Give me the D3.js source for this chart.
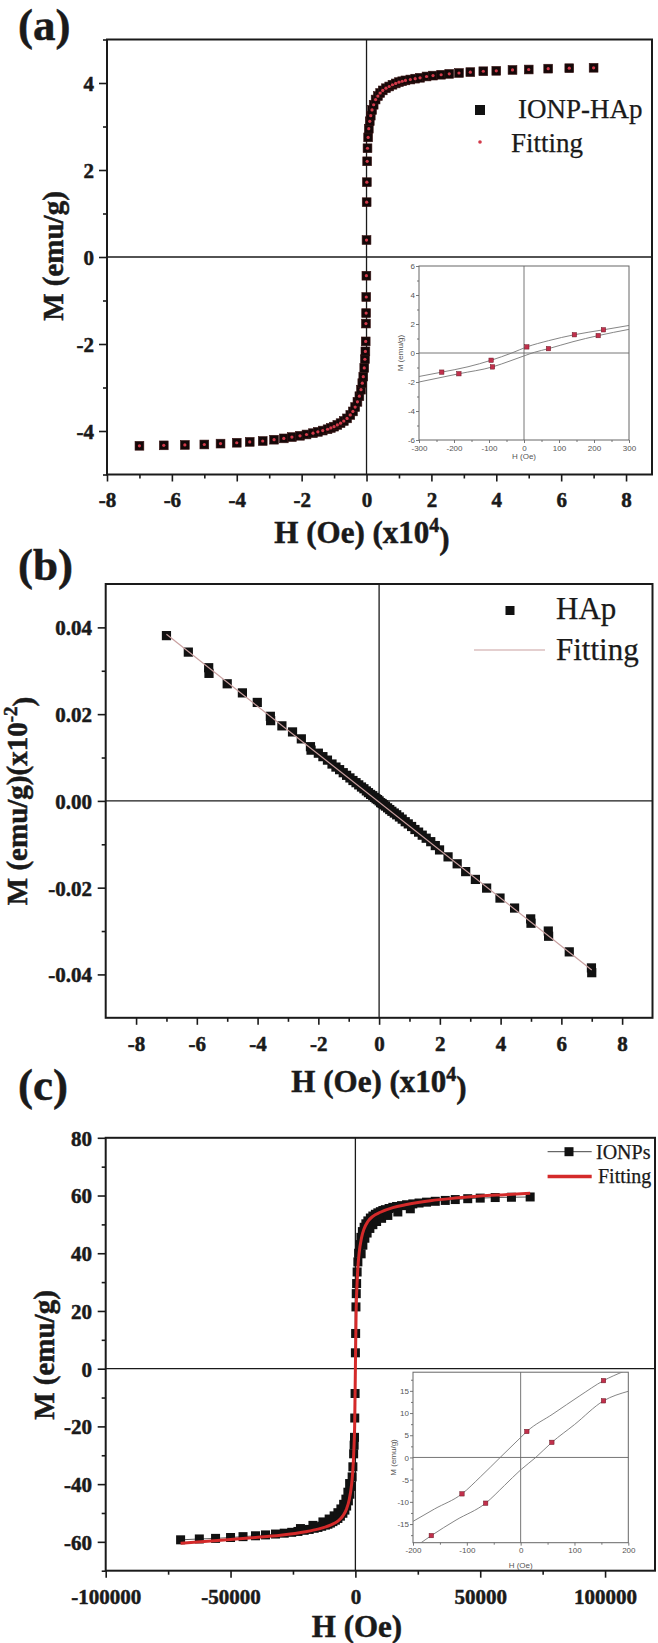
<!DOCTYPE html>
<html>
<head>
<meta charset="utf-8">
<script src="https://cdn.jsdelivr.net/npm/d3@7"></script>
<style>
  body { margin: 0; background: #fff; }
  svg { display: block; }
</style>
</head>
<body>
<div id="chart"></div>
<script>
// ---- data ----
// (a) IONP-HAp, H in x10^4 Oe, M in emu/g
const aPoints = [
  [-7, -4.34], [-6.25, -4.33], [-5.6, -4.32], [-5, -4.31], [-4.5, -4.29], [-4, -4.27], [-3.6, -4.25],
  [-3.2, -4.23], [-2.85, -4.2], [-2.55, -4.17], [-2.3, -4.14], [-2.05, -4.11], [-1.85, -4.08],
  [-1.65, -4.05], [-1.5, -4.02], [-1.35, -3.99], [-1.2, -3.96], [-1.1, -3.93], [-1, -3.9],
  [-0.9, -3.86], [-0.8, -3.82], [-0.7, -3.77], [-0.6, -3.71], [-0.5, -3.63], [-0.42, -3.55],
  [-0.35, -3.45], [-0.28, -3.33], [-0.22, -3.2], [-0.17, -3.05], [-0.13, -2.9], [-0.1, -2.75],
  [-0.07, -2.55], [-0.05, -2.35], [-0.035, -2.17], [-0.025, -1.94], [-0.018, -1.53], [-0.012, -1.29],
  [-0.008, -0.92], [-0.004, -0.43], [0, 0.39], [0.004, 1.26], [0.01, 1.72], [0.02, 2.2], [0.03, 2.5],
  [0.05, 2.75], [0.07, 2.95], [0.1, 3.12], [0.13, 3.25], [0.17, 3.38], [0.22, 3.5], [0.28, 3.62],
  [0.35, 3.7], [0.42, 3.77], [0.5, 3.83], [0.6, 3.88], [0.7, 3.92], [0.8, 3.96], [0.9, 3.99],
  [1, 4.02], [1.1, 4.04], [1.2, 4.06], [1.35, 4.08], [1.5, 4.1], [1.65, 4.12], [1.85, 4.15],
  [2.05, 4.17], [2.3, 4.19], [2.55, 4.21], [2.85, 4.23], [3.2, 4.25], [3.6, 4.27], [4, 4.28],
  [4.5, 4.3], [5, 4.31], [5.6, 4.33], [6.25, 4.34], [7, 4.35]
];
// (a) inset, H in Oe
const aInsetUp = [[-300, -1.62], [-235, -1.32], [-160, -0.95], [-94, -0.5], [-35, 0], [8, 0.42], [70, 0.85], [144, 1.26], [227, 1.6], [300, 1.9]];
const aInsetLow = [[-300, -2.0], [-186, -1.43], [-90, -0.96], [-40, -0.55], [0, -0.2], [30, 0.05], [70, 0.3], [140, 0.78], [212, 1.2], [300, 1.63]];
const aInsetDots = [[-235, -1.32], [-94, -0.5], [8, 0.42], [144, 1.26], [227, 1.6], [-186, -1.43], [-90, -0.96], [70, 0.3], [212, 1.2]];

// (b) HAp, H in x10^4 Oe
const bPoints = [
  [-7, 0.0381], [-6.28, 0.0343], [-5.61, 0.0307], [-5.6, 0.0294], [-5, 0.027], [-4.5, 0.0249],
  [-4.01, 0.0227], [-3.58, 0.0195], [-3.57, 0.0185], [-3.2, 0.0173], [-2.85, 0.0159], [-2.56, 0.0143],
  [-2.26, 0.0125], [-2.24, 0.0117], [-2, 0.011], [-1.85, 0.0102], [-1.7, 0.0094], [-1.55, 0.0085],
  [-1.42, 0.0078], [-1.3, 0.0072], [-1.18, 0.0065], [-1.07, 0.0059], [-0.96, 0.0053], [-0.86, 0.0047],
  [-0.76, 0.0042], [-0.67, 0.0037], [-0.58, 0.0032], [-0.5, 0.0028], [-0.42, 0.0023], [-0.35, 0.0019],
  [-0.28, 0.0015], [-0.21, 0.0012], [-0.15, 0.0008], [-0.1, 0.0005], [-0.05, 0.0003], [0, 0],
  [0.05, -0.0004], [0.1, -0.0006], [0.15, -0.0009], [0.21, -0.0012], [0.28, -0.0016], [0.35, -0.002],
  [0.42, -0.0024], [0.5, -0.0028], [0.58, -0.0032], [0.67, -0.0037], [0.76, -0.0042], [0.86, -0.0048],
  [0.96, -0.0053], [1.07, -0.0059], [1.18, -0.0066], [1.3, -0.0072], [1.42, -0.0079], [1.55, -0.0086],
  [1.7, -0.0094], [1.85, -0.0103], [1.99, -0.0113], [2.27, -0.0129], [2.57, -0.0145], [2.85, -0.0163],
  [3.17, -0.0181], [3.54, -0.0201], [3.98, -0.0224], [4.46, -0.0247], [4.99, -0.0272], [5, -0.0282],
  [5.57, -0.03], [5.58, -0.0312], [6.26, -0.0348], [6.99, -0.0385], [7, -0.0396]
];
const bFit = [[-7, 0.0384], [7, -0.039]];

// (c) IONPs, H in Oe
const cPoints = [
  [-70000, -59.3], [-62500, -59.0], [-56000, -58.8], [-50000, -58.5], [-45000, -58.2], [-40000, -57.9],
  [-36000, -57.6], [-32000, -57.3], [-28500, -57.0], [-25500, -56.7], [-23000, -56.4], [-20500, -56.0],
  [-18500, -55.7], [-16500, -55.3], [-15000, -55.0], [-13500, -54.6], [-12000, -54.2], [-11000, -53.9],
  [-10000, -53.5], [-9000, -53.0], [-8000, -52.5], [-7000, -51.9], [-6000, -51.1], [-5000, -50.1],
  [-4200, -49.0], [-3500, -47.6], [-2800, -45.8], [-2200, -43.5], [-1700, -40.8], [-1300, -37.5],
  [-1000, -34.0], [-700, -29.5], [-500, -26.5], [-350, -23.8], [-250, -17.1], [-120, -8.6],
  [10, 5.5], [100, 12.2], [230, 21.4], [350, 26.0], [500, 29.5], [700, 33.5], [1000, 37.0],
  [1300, 40.0], [1700, 43.0], [2200, 45.5], [2800, 47.5], [3500, 49.0], [4200, 50.2], [5000, 51.2],
  [6000, 52.2], [7000, 52.9], [8000, 53.5], [9000, 54.0], [10000, 54.4], [11000, 54.8], [12000, 55.1],
  [13500, 55.5], [15000, 55.9], [16500, 56.2], [18500, 56.5], [20500, 56.8], [23000, 57.1],
  [25500, 57.4], [28500, 57.7], [32000, 58.0], [36000, 58.3], [40000, 58.6], [45000, 58.9],
  [50000, 59.1], [56000, 59.3], [62500, 59.4], [70000, 59.5]
];
// (c) return branch, visible as the thicker band around the knees
const cReturn = [
  [-22000, -55.4], [-17000, -54.3], [-13000, -53.1], [-10500, -52.1], [-8500, -51.0], [-7000, -49.9],
  [-5800, -48.6], [-4700, -47.0], [-3800, -45.2], [-3000, -42.8], [-2300, -39.8],
  [2300, 39.8], [3000, 42.8], [3800, 45.2], [4700, 47.0], [5800, 48.6], [7000, 49.9], [8500, 51.0],
  [10500, 52.1], [13000, 53.1], [17000, 54.3], [22000, 55.4]
];
const cFit = [
  [-70000, -60.5], [-50000, -59.2], [-40000, -58.5], [-30000, -57.7], [-20000, -56.5], [-15000, -55.6],
  [-10000, -54.2], [-7000, -52.8], [-5000, -51.0], [-3500, -48.5], [-2500, -45.5], [-1500, -40],
  [-1000, -35], [-600, -28], [-300, -20], [0, 0], [300, 20], [600, 28], [1000, 35], [1500, 40],
  [2500, 45.5], [3500, 48.5], [5000, 51], [7000, 52.8], [10000, 54.2], [15000, 55.8], [20000, 56.8],
  [30000, 58.2], [40000, 59.1], [50000, 59.8], [60000, 60.3], [70000, 60.8]
];
// (c) inset, H in Oe
const cInsetUp = [[-200, -14.4], [-160, -11.6], [-109, -8.2], [-75, -4.4], [-38, 0], [0, 4.5], [11.5, 5.85], [60, 9.8], [110, 13.9], [154, 17.3], [190, 19.3]];
const cInsetLow = [[-185, -19.2], [-166, -17.6], [-120, -14.1], [-65, -10.3], [-30, -6.3], [0, -2.8], [28, 0], [58, 3.4], [100, 7.4], [154, 12.75], [200, 14.9]];
const cInsetDots = [[-109, -8.2], [11.5, 5.85], [154, 17.3], [-166, -17.6], [-65, -10.3], [58, 3.4], [154, 12.75]];

// tick values
const aXTicks = [-8, -6, -4, -2, 0, 2, 4, 6, 8];
const aXMinor = [-7, -5, -3, -1, 1, 3, 5, 7];
const aYTicks = [-4, -2, 0, 2, 4];
const aYMinor = [-5, -3, -1, 1, 3, 5];
const bXTicks = [-8, -6, -4, -2, 0, 2, 4, 6, 8];
const bXMinor = [-7, -5, -3, -1, 1, 3, 5, 7];
const bYTicks = [-0.04, -0.02, 0, 0.02, 0.04];
const bYMinor = [-0.03, -0.01, 0.01, 0.03];
const cXTicks = [-100000, -50000, 0, 50000, 100000];
const cXMinor = [-75000, -25000, 25000, 75000];
const cYTicks = [-60, -40, -20, 0, 20, 40, 60, 80];
const cYMinor = [-70, -50, -30, -10, 10, 30, 50, 70];

// ---- drawing ----
const W = 658, H = 1643;
const ink = '#1a1a1a';
const serif = '"Liberation Serif", "Times New Roman", serif';
const sans = '"Liberation Sans", Arial, sans-serif';

const svg = d3.select('#chart').append('svg')
  .attr('width', W)
  .attr('height', H)
  .style('background', '#fff');

// bold serif text, thickened a little like the scanned figure
function heavy(sel, size) {
  return sel.attr('fill', ink).attr('stroke', ink).attr('stroke-width', 0.5)
    .style('font-family', serif).style('font-weight', 'bold').style('font-size', size + 'px');
}

function styleTicks(g, size, color) {
  g.select('.domain').remove();
  g.selectAll('line').attr('stroke', color).attr('stroke-width', size);
}

function panel(p) {
  const x = d3.scaleLinear().domain(p.xd).range([p.l, p.r]);
  const y = d3.scaleLinear().domain(p.yd).range([p.b, p.t]);

  // zero lines
  svg.append('line').attr('x1', x(0)).attr('x2', x(0)).attr('y1', p.t).attr('y2', p.b)
    .attr('stroke', ink).attr('stroke-width', 1.3);
  svg.append('line').attr('x1', p.l).attr('x2', p.r).attr('y1', y(0)).attr('y2', y(0))
    .attr('stroke', ink).attr('stroke-width', 1.3);

  const gx = svg.append('g').attr('transform', `translate(0,${p.b})`)
    .call(d3.axisBottom(x).tickValues(p.xt).tickSize(7).tickSizeOuter(0).tickFormat(p.xf));
  styleTicks(gx, 1.6, ink);
  heavy(gx.selectAll('text'), 21).attr('y', p.xLab - p.b).attr('dy', 0);
  const gxm = svg.append('g').attr('transform', `translate(0,${p.b})`)
    .call(d3.axisBottom(x).tickValues(p.xm).tickSize(4).tickSizeOuter(0).tickFormat(''));
  styleTicks(gxm, 1.6, ink);

  const gy = svg.append('g').attr('transform', `translate(${p.l},0)`)
    .call(d3.axisLeft(y).tickValues(p.yt).tickSize(8).tickSizeOuter(0).tickFormat(p.yf));
  styleTicks(gy, 1.6, ink);
  heavy(gy.selectAll('text'), 21).attr('x', -(p.l - p.yLab)).attr('dy', '0.35em');
  const gym = svg.append('g').attr('transform', `translate(${p.l},0)`)
    .call(d3.axisLeft(y).tickValues(p.ym).tickSize(4).tickSizeOuter(0).tickFormat(''));
  styleTicks(gym, 1.6, ink);

  svg.append('rect').attr('x', p.l).attr('y', p.t)
    .attr('width', p.r - p.l).attr('height', p.b - p.t)
    .attr('fill', 'none').attr('stroke', ink).attr('stroke-width', 2);

  // panel letter
  heavy(svg.append('text').attr('x', 18).attr('y', p.tag[1]), 45).text(p.tag[0]);

  // x title
  const tx = heavy(svg.append('text').attr('x', p.xTitle[0]).attr('y', p.xTitle[1])
    .attr('text-anchor', 'middle'), 31);
  tx.append('tspan').text(p.xTitle[2]);
  if (p.xTitle[3]) {
    tx.append('tspan').attr('dy', '-0.55em').style('font-size', '20px').text(p.xTitle[3]);
    tx.append('tspan').attr('dy', '0.55em').text(')');
  }

  // y title
  const ty = heavy(svg.append('text')
    .attr('transform', `translate(${p.yTitle[0]},${p.yTitle[1]}) rotate(-90)`)
    .attr('text-anchor', 'middle'), 29);
  ty.append('tspan').text(p.yTitle[2]);
  if (p.yTitle[3]) {
    ty.append('tspan').attr('dy', '-0.55em').style('font-size', '19px').text(p.yTitle[3]);
    ty.append('tspan').attr('dy', '0.55em').text(')');
  }
  return { x, y };
}

function inset(o) {
  const x = d3.scaleLinear().domain(o.xd).range([o.l, o.r]);
  const y = d3.scaleLinear().domain(o.yd).range([o.b, o.t]);
  const g = svg.append('g');
  const gray = '#666';
  g.append('rect').attr('x', o.l).attr('y', o.t).attr('width', o.r - o.l).attr('height', o.b - o.t)
    .attr('fill', '#fff');
  g.append('clipPath').attr('id', o.id).append('rect')
    .attr('x', o.l).attr('y', o.t).attr('width', o.r - o.l).attr('height', o.b - o.t);

  g.append('line').attr('x1', x(0)).attr('x2', x(0)).attr('y1', o.t).attr('y2', o.b)
    .attr('stroke', gray).attr('stroke-width', 0.9);
  g.append('line').attr('x1', o.l).attr('x2', o.r).attr('y1', y(0)).attr('y2', y(0))
    .attr('stroke', gray).attr('stroke-width', 0.9);

  const fmt = d => String(d);
  const gx = g.append('g').attr('transform', `translate(0,${o.b})`)
    .call(d3.axisBottom(x).tickValues(o.xt).tickSize(3).tickSizeOuter(0).tickFormat(fmt));
  styleTicks(gx, 0.8, '#555');
  gx.selectAll('text').attr('y', 5).attr('dy', '0.71em').attr('fill', '#555')
    .style('font-family', sans).style('font-size', '8px');
  const gxm = g.append('g').attr('transform', `translate(0,${o.b})`)
    .call(d3.axisBottom(x).tickValues(o.xm).tickSize(2).tickSizeOuter(0).tickFormat(''));
  styleTicks(gxm, 0.8, '#555');

  const gy = g.append('g').attr('transform', `translate(${o.l},0)`)
    .call(d3.axisLeft(y).tickValues(o.yt).tickSize(3).tickSizeOuter(0).tickFormat(fmt));
  styleTicks(gy, 0.8, '#555');
  gy.selectAll('text').attr('x', -4).attr('fill', '#555')
    .style('font-family', sans).style('font-size', '8px');
  const gym = g.append('g').attr('transform', `translate(${o.l},0)`)
    .call(d3.axisLeft(y).tickValues(o.ym).tickSize(2).tickSizeOuter(0).tickFormat(''));
  styleTicks(gym, 0.8, '#555');

  g.append('rect').attr('x', o.l).attr('y', o.t).attr('width', o.r - o.l).attr('height', o.b - o.t)
    .attr('fill', 'none').attr('stroke', '#666').attr('stroke-width', 1);

  const line = d3.line().x(d => x(d[0])).y(d => y(d[1])).curve(d3.curveMonotoneX);
  const cg = g.append('g').attr('clip-path', `url(#${o.id})`);
  [o.up, o.low].forEach(br => {
    cg.append('path').attr('d', line(br)).attr('fill', 'none')
      .attr('stroke', '#777').attr('stroke-width', 0.9);
  });
  cg.selectAll('rect.dot').data(o.dots).join('rect').attr('class', 'dot')
    .attr('x', d => x(d[0]) - 2.2).attr('y', d => y(d[1]) - 2.2)
    .attr('width', 4.4).attr('height', 4.4)
    .attr('fill', '#c2304c').attr('stroke', '#6a1a26').attr('stroke-width', 0.5);

  g.append('text').attr('x', x(0)).attr('y', o.xLab).attr('text-anchor', 'middle')
    .attr('fill', '#555').style('font-family', sans).style('font-size', '8px').text('H (Oe)');
  g.append('text').attr('transform', `translate(${o.yLab},${y(0)}) rotate(-90)`)
    .attr('text-anchor', 'middle').attr('fill', '#555')
    .style('font-family', sans).style('font-size', '8px').text('M (emu/g)');
}

function legendText(x, y, size, label) {
  svg.append('text').attr('x', x).attr('y', y).attr('fill', ink)
    .attr('stroke', ink).attr('stroke-width', 0.25)
    .style('font-family', serif).style('font-size', size + 'px').text(label);
}

const intFmt = d => String(d);

// ---------- (a) ----------
const A = panel({
  xd: [-8, 8.8], yd: [-5, 5], l: 107, r: 652, t: 39.5, b: 474.5,
  xt: aXTicks, xm: aXMinor, yt: aYTicks, ym: aYMinor, xf: intFmt, yf: intFmt,
  xLab: 507, yLab: 94,
  tag: ['(a)', 40],
  xTitle: [362, 543, 'H (Oe) (x10', '4'],
  yTitle: [63, 256, 'M (emu/g)']
});
svg.append('g').selectAll('rect').data(aPoints).join('rect')
  .attr('x', d => A.x(d[0]) - 4.4).attr('y', d => A.y(d[1]) - 4.4)
  .attr('width', 8.8).attr('height', 8.8).attr('fill', '#140808')
  .attr('stroke', '#3a1414').attr('stroke-width', 0.6);
svg.append('g').selectAll('circle').data(aPoints).join('circle')
  .attr('cx', d => A.x(d[0])).attr('cy', d => A.y(d[1])).attr('r', 1.6)
  .attr('fill', '#d23a4a');

// legend (a)
svg.append('rect').attr('x', 475).attr('y', 105).attr('width', 10).attr('height', 10).attr('fill', '#111');
legendText(518, 118, 27, 'IONP-HAp');
svg.append('circle').attr('cx', 480).attr('cy', 142).attr('r', 1.8).attr('fill', '#d23a4a');
legendText(511, 152, 27, 'Fitting');

inset({
  id: 'clipA', xd: [-300, 300], yd: [-6, 6], l: 419, r: 629, t: 266, b: 440,
  xt: [-300, -200, -100, 0, 100, 200, 300], xm: [-250, -150, -50, 50, 150, 250],
  yt: [-6, -4, -2, 0, 2, 4, 6], ym: [-5, -3, -1, 1, 3, 5],
  up: aInsetUp, low: aInsetLow, dots: aInsetDots, xLab: 459, yLab: 403
});

// ---------- (b) ----------
const B = panel({
  xd: [-9, 9], yd: [-0.05, 0.05], l: 105.7, r: 652.5, t: 584, b: 1017.8,
  xt: bXTicks, xm: bXMinor, yt: bYTicks, ym: bYMinor, xf: intFmt, yf: d => d.toFixed(2),
  xLab: 1051, yLab: 92,
  tag: ['(b)', 580],
  xTitle: [379, 1092, 'H (Oe) (x10', '4'],
  yTitle: [27, 801, 'M (emu/g)(x10', '-2']
});
const fitLine = d3.line().x(d => B.x(d[0])).y(d => B.y(d[1]));
svg.append('g').selectAll('rect').data(bPoints).join('rect')
  .attr('x', d => B.x(d[0]) - 4.6).attr('y', d => B.y(d[1]) - 4.6)
  .attr('width', 9.2).attr('height', 9.2).attr('fill', '#111');
svg.append('path').attr('d', fitLine(bFit)).attr('fill', 'none')
  .attr('stroke', '#c9a0a0').attr('stroke-width', 1.2);

svg.append('rect').attr('x', 505.5).attr('y', 606).attr('width', 9).attr('height', 9).attr('fill', '#111');
legendText(556, 619, 31, 'HAp');
svg.append('line').attr('x1', 474).attr('x2', 545).attr('y1', 650).attr('y2', 650)
  .attr('stroke', '#c9a0a0').attr('stroke-width', 1.2);
legendText(556, 660, 31, 'Fitting');

// ---------- (c) ----------
const C = panel({
  xd: [-100000, 120000], yd: [-70, 80], l: 105.7, r: 655, t: 1137.8, b: 1570.7,
  xt: cXTicks, xm: cXMinor, yt: cYTicks, ym: cYMinor, xf: intFmt, yf: intFmt,
  xLab: 1604, yLab: 92,
  tag: ['(c)', 1100],
  xTitle: [357, 1637, 'H (Oe)'],
  yTitle: [54, 1355, 'M (emu/g)']
});
const cLine = d3.line().x(d => C.x(d[0])).y(d => C.y(d[1]));
svg.append('path').attr('d', cLine(cPoints)).attr('fill', 'none')
  .attr('stroke', '#333').attr('stroke-width', 0.8);
svg.append('g').selectAll('rect').data(cPoints.concat(cReturn)).join('rect')
  .attr('x', d => C.x(d[0]) - 4.5).attr('y', d => C.y(d[1]) - 4.5)
  .attr('width', 9).attr('height', 9).attr('fill', '#111');
svg.append('path').attr('d', cLine.curve(d3.curveMonotoneX)(cFit)).attr('fill', 'none')
  .attr('stroke', '#d42a2a').attr('stroke-width', 3);

svg.append('line').attr('x1', 547.6).attr('x2', 591.7).attr('y1', 1151.7).attr('y2', 1151.7)
  .attr('stroke', '#444').attr('stroke-width', 1);
svg.append('rect').attr('x', 564.5).attr('y', 1147.2).attr('width', 9).attr('height', 9).attr('fill', '#111');
legendText(596, 1159, 20, 'IONPs');
svg.append('line').attr('x1', 547.6).attr('x2', 591.7).attr('y1', 1176.4).attr('y2', 1176.4)
  .attr('stroke', '#d42a2a').attr('stroke-width', 3.5);
legendText(598, 1183, 20, 'Fitting');

inset({
  id: 'clipC', xd: [-200, 200], yd: [-19.2, 19.2], l: 413, r: 628.3, t: 1372.2, b: 1542.7,
  xt: [-200, -100, 0, 100, 200], xm: [-150, -50, 50, 150],
  yt: [-15, -10, -5, 0, 5, 10, 15], ym: [-17.5, -12.5, -7.5, -2.5, 2.5, 7.5, 12.5, 17.5],
  up: cInsetUp, low: cInsetLow, dots: cInsetDots, xLab: 1568, yLab: 396
});
</script>
</body>
</html>
